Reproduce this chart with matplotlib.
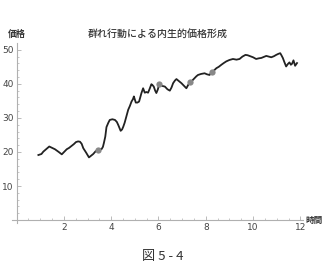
import matplotlib
matplotlib.use("Agg")
import matplotlib.pyplot as plt

plt.rcParams['font.family'] = ['Noto Sans CJK JP', 'DejaVu Sans']

# price path (time, price)
times = [0.92, 1.05, 1.13, 1.25, 1.38, 1.5, 1.62, 1.78, 1.91, 2.02, 2.12, 2.22, 2.33, 2.42,
         2.51, 2.6, 2.68, 2.75, 2.82, 2.94, 3.06, 3.15, 3.24, 3.34, 3.43, 3.52, 3.59, 3.65,
         3.69, 3.75, 3.80, 3.88, 3.94, 4.05, 4.16, 4.24, 4.30, 4.36, 4.40, 4.46, 4.51, 4.57,
         4.62, 4.67, 4.72, 4.79, 4.86, 4.92, 4.96, 5.0, 5.04, 5.11, 5.18, 5.23, 5.28, 5.35,
         5.42, 5.49, 5.56, 5.63, 5.70, 5.75, 5.80, 5.86, 5.91, 5.97, 6.03, 6.15, 6.27, 6.38,
         6.48, 6.55, 6.62, 6.70, 6.76, 6.85, 6.97, 7.08, 7.18, 7.25, 7.32, 7.42, 7.53, 7.60,
         7.67, 7.80, 7.95, 8.05, 8.16, 8.22, 8.28, 8.36, 8.45, 8.55, 8.66, 8.76, 8.87, 9.0,
         9.15, 9.3, 9.43, 9.55, 9.68, 9.77, 9.85, 10.0, 10.13, 10.25, 10.35, 10.45, 10.56,
         10.67, 10.77, 10.88, 10.98, 11.07, 11.15, 11.2, 11.26, 11.33, 11.40, 11.47, 11.54,
         11.60, 11.65, 11.71, 11.78, 11.86]
prices = [19.1, 19.4, 20.1, 20.8, 21.6, 21.2, 20.8, 20.0, 19.3, 20.1, 20.8, 21.2, 21.8, 22.3,
          22.9, 23.1, 23.0, 22.4, 21.1, 19.8, 18.4, 18.9, 19.4, 20.2, 20.6, 20.8, 20.8, 21.5,
          22.6, 24.5, 27.3, 28.6, 29.4, 29.6, 29.4, 28.8, 27.9, 26.9, 26.2, 26.6, 27.4, 28.6,
          29.9, 31.2, 32.4, 33.5, 34.8, 35.5, 36.3, 35.4, 34.5, 34.5, 34.8, 36.0, 37.3, 38.7,
          37.4, 37.6, 37.4, 38.6, 39.9, 39.6, 39.2, 38.0, 37.3, 38.3, 39.8, 39.4, 39.2, 38.4,
          38.0, 38.9, 40.2, 41.0, 41.4, 40.9, 40.2, 39.4, 38.7, 39.6, 40.4, 40.9, 41.7, 42.2,
          42.6, 42.9, 43.1, 42.8, 42.6, 43.2, 43.6, 44.0, 44.6, 45.0, 45.6, 46.1, 46.6, 47.0,
          47.3, 47.1, 47.3, 48.0, 48.5, 48.4, 48.2, 47.8, 47.3, 47.5, 47.6, 47.9, 48.2, 48.0,
          47.8, 48.1, 48.5, 48.8, 49.0, 48.4, 47.6, 46.3, 45.1, 45.8, 46.3, 45.6, 45.9, 46.9,
          45.3, 46.1]

# highlighted points
dot_t = [3.43, 6.03, 7.32, 8.28]
dot_p = [20.6, 40.0, 40.4, 43.6]

x_ticks = [2, 4, 6, 8, 10, 12]
y_ticks = [10, 20, 30, 40, 50]

fig = plt.figure(figsize=(3.26, 2.79), dpi=100)
ax = fig.add_axes([0.0365, 0.199, 0.892, 0.647])

ax.plot(times, prices, color='#222222', lw=1.3, zorder=3)
ax.plot(dot_t, dot_p, 'o', color='#888888', ms=4.5, mec='none', zorder=4)

ax.set_xlim(-0.2, 12.1)
ax.set_ylim(-1, 52)
for s in ['top', 'right']:
    ax.spines[s].set_visible(False)
ax.spines['left'].set_position(('data', 0))
ax.spines['bottom'].set_position(('data', 0))
for s in ['left', 'bottom']:
    ax.spines[s].set_color('#b0b0b0')
    ax.spines[s].set_linewidth(0.8)

ax.set_xticks(x_ticks)
ax.set_yticks(y_ticks)
ax.set_xticks([t / 2 for t in range(1, 24) if t % 4 != 0], minor=True)
ax.set_yticks([t for t in range(2, 52, 2) if t % 10 != 0], minor=True)
ax.tick_params(which='both', direction='in', color='#b0b0b0', labelsize=6.5,
               labelcolor='#444444', pad=2)
ax.tick_params(which='major', length=3, width=0.6)
ax.tick_params(which='minor', length=1.5, width=0.5)
for lab in ax.get_xticklabels() + ax.get_yticklabels():
    lab.set_family('DejaVu Sans')

fig.text(0.025, 0.878, '価格', fontsize=6.5, fontweight='bold', color='#333333', va='center')
fig.text(0.938, 0.211, '時間', fontsize=6.2, fontweight='bold', color='#333333', va='center')
fig.text(0.483, 0.878, '群れ行動による内生的価格形成', fontsize=7.2, fontweight='medium',
         color='#333333', ha='center', va='center')
fig.text(0.5, 0.079, '図 5 - 4', fontsize=9.5, color='#333333', ha='center', va='center')

fig.savefig('out.png', dpi=100)
